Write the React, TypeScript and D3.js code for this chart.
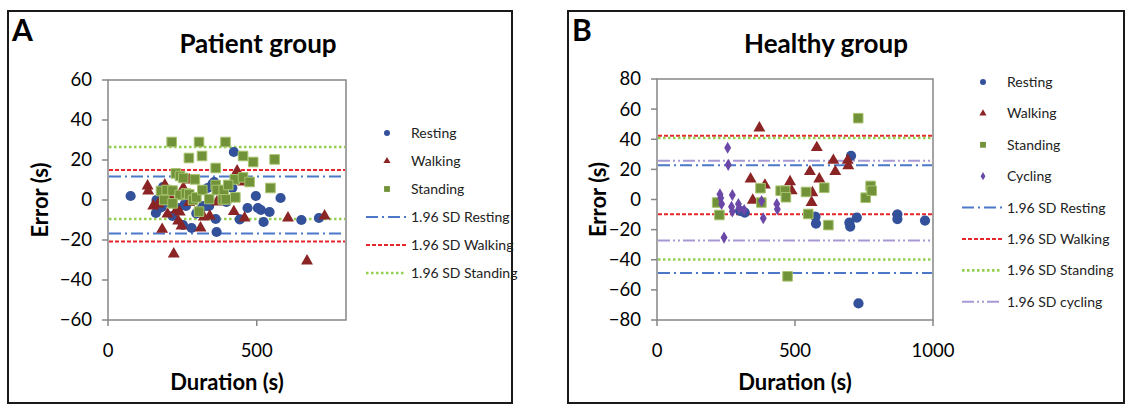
import React from 'react';
import * as d3 from 'd3';

// Panel A – patient group, points are [duration (s), error (s)]
const patientResting = [
  [76, 2], [163, 0], [161, -6.5], [174, -4], [180, -3.5], [185, 6.5], [200, -1], [217, -8],
  [235, -4], [252, -12.5], [258, -2], [262, -3], [281, -14], [297, -6.7], [309, -5], [320, -3],
  [330, -3], [340, -3], [335, 6], [351, 8], [357, 9], [362, -9.5], [365, -16], [398, -1],
  [418, 6], [423, 24], [443, -9.7], [469, -4], [497, 2], [504, -4], [514, -5], [523, -11],
  [543, -6], [580, 1], [650, -10], [709, -9],
];
const patientWalking = [
  [133, 7], [135, 4.5], [152, -3], [169, -2], [182, -14.7], [191, 7.5], [200, -7], [208, 1.7],
  [221, -27], [230, -5], [236, -10.5], [241, -6], [247, -13], [253, 6], [273, 10], [273, -1.3],
  [311, -14], [322, -8.5], [342, -8], [366, -1], [423, -5.8], [434, 14.5], [454, 9], [459, -9],
  [605, -9], [669, -30.5], [728, -8],
];
const patientStanding = [
  [214, 29], [306, 29], [395, 29], [272, 21], [316, 22], [454, 22], [488, 19], [560, 20.3],
  [362, 16], [228, 13.3], [242, 12], [253, 11], [292, 10.3], [426, 10.3], [454, 11.3], [476, 9],
  [546, 6], [178, 4.5], [197, 5], [217, 4.7], [241, 2.5], [262, 3.3], [273, 2.8], [189, 0],
  [217, -1.7], [286, 0], [297, 1.3], [317, 5], [340, 0.5], [362, 7.5], [366, 5], [389, 5],
  [404, 7.5], [386, 0.3], [396, 0.3], [428, 1.3], [306, -5.8],
];
// 1.96 SD limits [upper, lower]
const patientLimitResting = [11.7, -16.8];
const patientLimitWalking = [15, -20.8];
const patientLimitStanding = [26.5, -9.5];

// Panel B – healthy group
const healthyResting = [
  [301, -7.5], [318, -8.7], [574, -11.4], [576, -16], [697, -15.4], [700, -18], [703, 29],
  [724, -12], [730, -69], [871, -9.8], [871, -13], [971, -14],
];
const healthyWalking = [
  [339, 13.6], [347, -0.5], [371, 47.5], [391, 9.6], [482, 11.8], [488, 5.7], [554, 18.5],
  [560, -2], [563, 4.5], [579, 34.5], [588, 13.6], [639, 26], [646, 18.5], [691, 26], [693, 22.3],
];
const healthyStanding = [
  [218, -2], [226, -10.3], [375, 7.5], [378, -2], [448, 5.8], [464, 5.8], [467, 1.5], [473, -51],
  [540, 5], [548, -9.6], [606, 7.8], [621, -17], [729, 54], [756, 1.2], [774, 9], [778, 5.8],
];
const healthyCycling = [
  [228, 3.5], [231, 1], [234, -3], [243, -25.3], [256, 34.4], [258, 23], [270, -4.8], [273, 3],
  [273, -8], [295, -3], [298, -6], [316, -7], [379, -1], [385, -12.5], [434, -3], [436, -6.5],
];
const healthyLimitResting = [22.7, -48.8];
const healthyLimitWalking = [42.3, -9.8];
const healthyLimitStanding = [40.8, -39.8];
const healthyLimitCycling = [25.8, -27.3];

const patientXTicks = [0, 500];
const patientYTicks = [-60, -40, -20, 0, 20, 40, 60];
const healthyXTicks = [0, 500, 1000];
const healthyYTicks = [-80, -60, -40, -20, 0, 20, 40, 60, 80];

const FONT = "Lato, 'Open Sans', sans-serif";

const markerStyle = {
  Resting: { fill: '#33519A', stroke: 'none', symbol: d3.symbolCircle, size: 82, legend: 28 },
  Walking: { fill: '#8B2424', stroke: 'none', symbol: d3.symbolTriangle, size: 62, legend: 22 },
  Standing: { fill: '#72923A', stroke: '#A7C46E', symbol: d3.symbolSquare, size: 92, legend: 34 },
  Cycling: { fill: '#6B48A8', stroke: 'none', symbol: d3.symbolDiamond, size: 42, legend: 20 },
};

const lineStyle = {
  Resting: { stroke: '#4B78C9', dash: '12 4 2 4', width: 2 },
  Walking: { stroke: '#E5262A', dash: '4 2', width: 2 },
  Standing: { stroke: '#92D050', dash: '2.5 2.5', width: 2.6 },
  cycling: { stroke: '#A898D3', dash: '12 3 2 3 2 3', width: 2 },
};

type Pt = number[];

interface PanelProps {
  label: string;
  title: string;
  frame: [number, number, number, number];
  plot: { left: number; right: number; top: number; bottom: number };
  xMax: number;
  xTicks: number[];
  yDomain: [number, number];
  yTicks: number[];
  series: { name: string; points: Pt[] }[];
  limits: { name: string; values: number[] }[];
  legend: { x: number; y0: number; dy: number };
  titleX: number;
  yTitleX: number;
}

function Panel(p: PanelProps) {
  const x = d3.scaleLinear().domain([0, p.xMax]).range([p.plot.left, p.plot.right]);
  const y = d3.scaleLinear().domain(p.yDomain).range([p.plot.bottom, p.plot.top]);
  const [fx, fy, fw, fh] = p.frame;
  const midX = (p.plot.left + p.plot.right) / 2;
  const midY = (p.plot.top + p.plot.bottom) / 2;
  const sym = (name: string, legend = false) => {
    const m = (markerStyle as any)[name];
    return d3.symbol().type(m.symbol).size(legend ? m.legend : m.size)() as string;
  };
  const lg = p.legend;
  return (
    <g>
      <rect x={fx} y={fy} width={fw} height={fh} fill="white" stroke="#1a1a1a" strokeWidth={2} />
      <text x={fx + 4} y={fy + 30} fontFamily={FONT} fontWeight="bold" fontSize={30} fill="#000">
        {p.label}
      </text>
      <text x={p.titleX} y={53} textAnchor="middle" fontFamily={FONT} fontWeight="bold" fontSize={26} fill="#000">
        {p.title}
      </text>
      {/* plot area */}
      <rect
        x={p.plot.left}
        y={p.plot.top}
        width={p.plot.right - p.plot.left}
        height={p.plot.bottom - p.plot.top}
        fill="white"
        stroke="#868686"
        strokeWidth={1.5}
      />
      {/* y ticks */}
      {p.yTicks.map((t) => (
        <g key={'y' + t}>
          <line x1={p.plot.left - 6} x2={p.plot.left} y1={y(t)} y2={y(t)} stroke="#868686" strokeWidth={1.5} />
          <text
            x={p.plot.left - 16}
            y={y(t)}
            dy="0.35em"
            textAnchor="end"
            fontFamily={FONT}
            fontSize={18.5}
            fill="#000"
          >
            {t < 0 ? '\u2212' + Math.abs(t) : t}
          </text>
        </g>
      ))}
      {/* x ticks */}
      {p.xTicks.map((t) => (
        <g key={'x' + t}>
          <line x1={x(t)} x2={x(t)} y1={p.plot.bottom} y2={p.plot.bottom + 6} stroke="#868686" strokeWidth={1.5} />
          <text x={x(t)} y={p.plot.bottom + 37} textAnchor="middle" fontFamily={FONT} fontSize={18.5} fill="#000">
            {t}
          </text>
        </g>
      ))}
      <text x={midX} y={390} textAnchor="middle" fontFamily={FONT} fontWeight="bold" fontSize={22} fill="#000">
        Duration (s)
      </text>
      <text
        transform={`translate(${p.yTitleX},${midY}) rotate(-90)`}
        textAnchor="middle"
        fontFamily={FONT}
        fontWeight="bold"
        fontSize={22}
        fill="#000"
      >
        Error (s)
      </text>
      {/* limit lines */}
      {p.limits.map((l) =>
        l.values.map((v, i) => (
          <line
            key={l.name + i}
            x1={p.plot.left + 1}
            x2={p.plot.right - 1}
            y1={y(v)}
            y2={y(v)}
            stroke={(lineStyle as any)[l.name].stroke}
            strokeDasharray={(lineStyle as any)[l.name].dash}
            strokeWidth={(lineStyle as any)[l.name].width}
          />
        ))
      )}
      {/* points */}
      {p.series.map((s) => (
        <g key={s.name}>
          {s.points.map((d, i) => (
            <path
              key={i}
              d={sym(s.name)}
              transform={`translate(${x(d[0])},${y(d[1])})`}
              fill={(markerStyle as any)[s.name].fill}
              stroke={(markerStyle as any)[s.name].stroke}
              strokeWidth={1}
            />
          ))}
        </g>
      ))}
      {/* legend */}
      {p.series.map((s, i) => (
        <g key={'lg' + s.name} transform={`translate(0,${lg.y0 + i * lg.dy})`}>
          <path
            d={sym(s.name, true)}
            transform={`translate(${lg.x - 24},0)`}
            fill={(markerStyle as any)[s.name].fill}
          />
          <text x={lg.x} y={0} dy="0.35em" fontFamily={FONT} fontSize={14} fill="#222">
            {s.name}
          </text>
        </g>
      ))}
      {p.limits.map((l, i) => (
        <g key={'ll' + l.name} transform={`translate(0,${lg.y0 + (p.series.length + i) * lg.dy})`}>
          <line
            x1={lg.x - 45}
            x2={lg.x - 5}
            y1={0}
            y2={0}
            stroke={(lineStyle as any)[l.name].stroke}
            strokeDasharray={(lineStyle as any)[l.name].dash}
            strokeWidth={(lineStyle as any)[l.name].width}
          />
          <text x={lg.x} y={0} dy="0.35em" fontFamily={FONT} fontSize={14} fill="#222">
            {'1.96 SD ' + l.name}
          </text>
        </g>
      ))}
    </g>
  );
}

export default function App() {
  return (
    <div style={{ position: 'absolute', left: 0, top: 0 }}>
      <svg width={1128} height={406} style={{ display: 'block', background: 'white' }}>
        <Panel
          label="A"
          title="Patient group"
          frame={[8, 11, 504, 392]}
          plot={{ left: 108, right: 346, top: 80, bottom: 320 }}
          xMax={800}
          xTicks={patientXTicks}
          yDomain={[-60, 60]}
          yTicks={patientYTicks}
          series={[
            { name: 'Resting', points: patientResting },
            { name: 'Walking', points: patientWalking },
            { name: 'Standing', points: patientStanding },
          ]}
          limits={[
            { name: 'Resting', values: patientLimitResting },
            { name: 'Walking', values: patientLimitWalking },
            { name: 'Standing', values: patientLimitStanding },
          ]}
          legend={{ x: 411, y0: 133, dy: 28 }}
          titleX={258}
          yTitleX={48}
        />
        <Panel
          label="B"
          title="Healthy group"
          frame={[568, 11, 556, 392]}
          plot={{ left: 657, right: 933, top: 79, bottom: 320 }}
          xMax={1000}
          xTicks={healthyXTicks}
          yDomain={[-80, 80]}
          yTicks={healthyYTicks}
          series={[
            { name: 'Resting', points: healthyResting },
            { name: 'Walking', points: healthyWalking },
            { name: 'Standing', points: healthyStanding },
            { name: 'Cycling', points: healthyCycling },
          ]}
          limits={[
            { name: 'Resting', values: healthyLimitResting },
            { name: 'Walking', values: healthyLimitWalking },
            { name: 'Standing', values: healthyLimitStanding },
            { name: 'cycling', values: healthyLimitCycling },
          ]}
          legend={{ x: 1007, y0: 82, dy: 31.4 }}
          titleX={826}
          yTitleX={606}
        />
      </svg>
    </div>
  );
}
